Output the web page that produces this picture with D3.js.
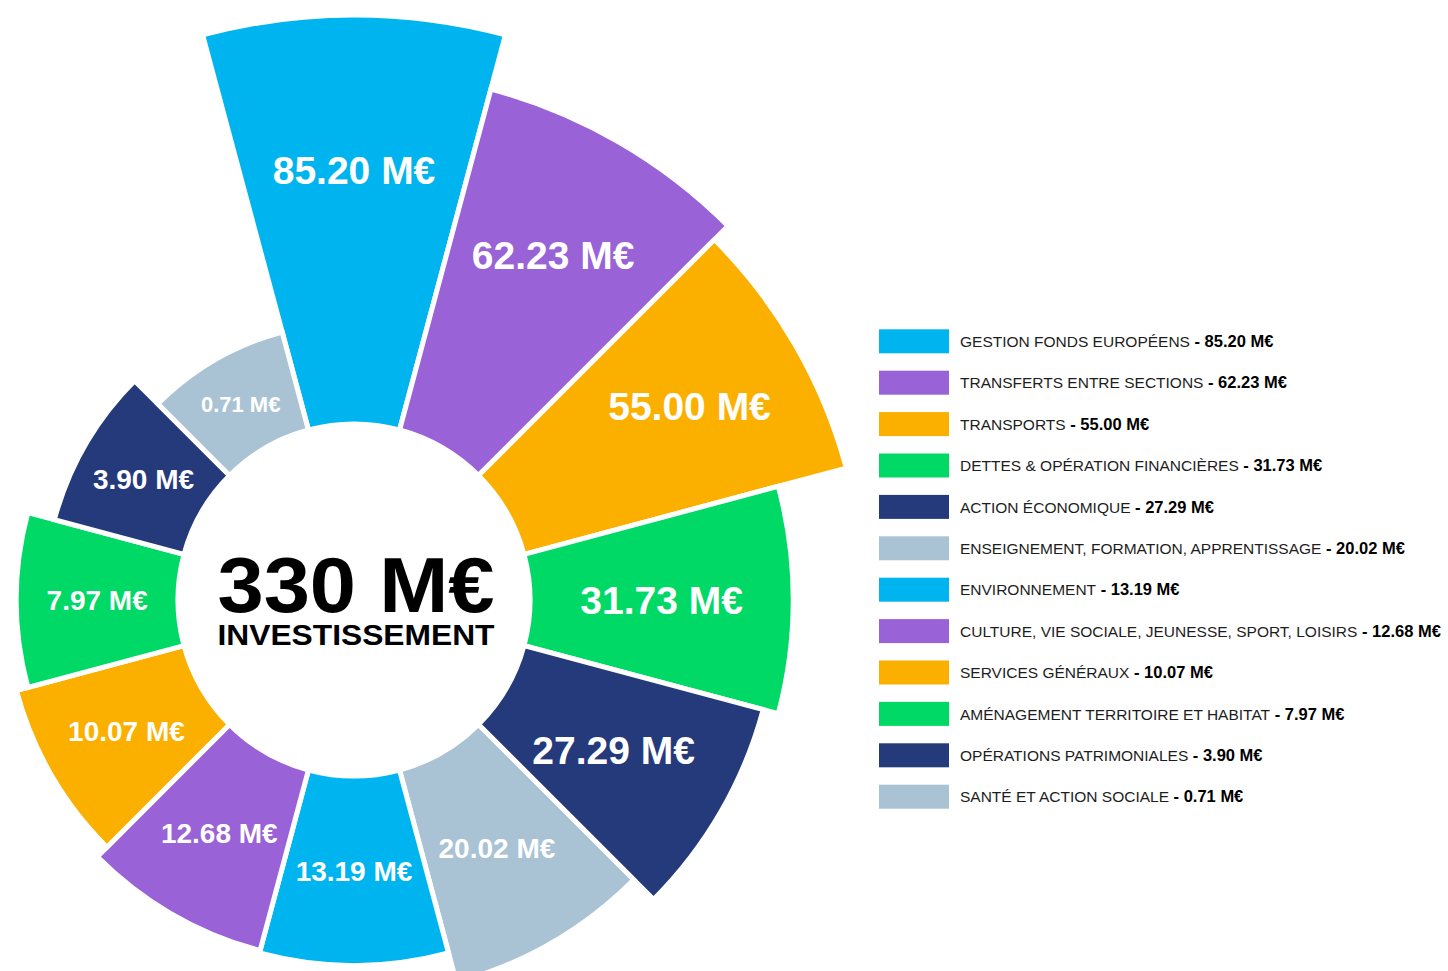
<!DOCTYPE html>
<html>
<head>
<meta charset="utf-8">
<script src="https://cdn.jsdelivr.net/npm/d3@7"></script>
<style>
  body { margin: 0; background: #fff; }
  svg { display: block; font-family: "Liberation Sans", Arial, Helvetica, sans-serif; }
</style>
</head>
<body>
<div id="chart"></div>
<script>
// investissement par fonction (M€)
const categories = [
  'GESTION FONDS EUROPÉENS',
  'TRANSFERTS ENTRE SECTIONS',
  'TRANSPORTS',
  'DETTES & OPÉRATION FINANCIÈRES',
  'ACTION ÉCONOMIQUE',
  'ENSEIGNEMENT, FORMATION, APPRENTISSAGE',
  'ENVIRONNEMENT',
  'CULTURE, VIE SOCIALE, JEUNESSE, SPORT, LOISIRS',
  'SERVICES GÉNÉRAUX',
  'AMÉNAGEMENT TERRITOIRE ET HABITAT',
  'OPÉRATIONS PATRIMONIALES',
  'SANTÉ ET ACTION SOCIALE'
];
const values = [85.20, 62.23, 55.00, 31.73, 27.29, 20.02, 13.19, 12.68, 10.07, 7.97, 3.90, 0.71];
const totalText = '330 M€';
const totalLabel = 'INVESTISSEMENT';

const palette = ['#00b5ef', '#9962d6', '#fbb000', '#00d966', '#253a7b', '#a9c3d5'];

const [w, h] = [1448, 971];
const [cx, cy] = [354, 600];
const innerR = 176;
const fmt = d => `${d3.format('.2f')(d)} M€`;

const data = categories.map((c, i) => ({ cat: c, value: values[i] }));

const angle = d3.scaleBand().domain(categories)
  .range([-Math.PI / 12, 2 * Math.PI - Math.PI / 12]);
const rScale = d3.scalePow().exponent(0.6).domain([0, d3.max(values)]).range([259, 585]);
const fontSize = d3.scaleThreshold().domain([1, 25]).range([22, 28, 39]);
// les plus grandes étiquettes sont poussées vers l'extérieur
const push = d3.scaleThreshold().domain([50]).range([1, 1.13]);
const color = d3.scaleOrdinal(categories, categories.map((c, i) => palette[i % palette.length]));

const svg = d3.select('#chart').append('svg')
  .attr('width', w).attr('height', h);

const arc = d3.arc()
  .innerRadius(innerR)
  .outerRadius(d => rScale(d.value))
  .startAngle(d => angle(d.cat))
  .endAngle(d => angle(d.cat) + angle.bandwidth());

const g = svg.append('g').attr('transform', `translate(${cx},${cy})`);

g.selectAll('path')
  .data(data)
  .enter()
  .append('path')
  .attr('d', arc)
  .attr('fill', d => color(d.cat))
  .attr('stroke', '#fff')
  .attr('stroke-width', 5)
  .attr('stroke-linejoin', 'miter');

g.selectAll('text.val')
  .data(data)
  .enter()
  .append('text')
  .attr('class', 'val')
  .attr('x', d => arc.centroid(d)[0] * push(d.value))
  .attr('y', d => arc.centroid(d)[1] * push(d.value))
  .attr('dy', '0.36em')
  .attr('text-anchor', 'middle')
  .attr('fill', '#fff')
  .attr('font-weight', 'bold')
  .attr('font-size', d => fontSize(d.value))
  .text(d => fmt(d.value));

// centre
g.append('text')
  .attr('x', 2).attr('y', 12)
  .attr('text-anchor', 'middle')
  .attr('font-weight', 'bold')
  .attr('font-size', 78)
  .attr('textLength', 277)
  .attr('lengthAdjust', 'spacingAndGlyphs')
  .attr('fill', '#000')
  .text(totalText);
g.append('text')
  .attr('x', 2).attr('y', 45)
  .attr('text-anchor', 'middle')
  .attr('font-weight', 'bold')
  .attr('font-size', 29)
  .attr('textLength', 277)
  .attr('lengthAdjust', 'spacingAndGlyphs')
  .attr('fill', '#000')
  .text(totalLabel);

// legende
const ly = d3.scalePoint().domain(categories).range([341.3, 796.7]);
const legend = svg.append('g').selectAll('g')
  .data(data)
  .enter()
  .append('g')
  .attr('transform', d => `translate(879,${ly(d.cat)})`);

legend.append('rect')
  .attr('x', 0).attr('y', -12)
  .attr('width', 70).attr('height', 24)
  .attr('fill', d => color(d.cat));

const lt = legend.append('text')
  .attr('x', 81).attr('y', 5.6)
  .attr('font-size', 15.5)
  .attr('fill', '#1d1d1d');
lt.append('tspan').text(d => d.cat);
lt.append('tspan').attr('font-weight', 'bold').attr('fill', '#000')
  .attr('font-size', 16.5)
  .text(d => ` - ${fmt(d.value)}`);
</script>
</body>
</html>
